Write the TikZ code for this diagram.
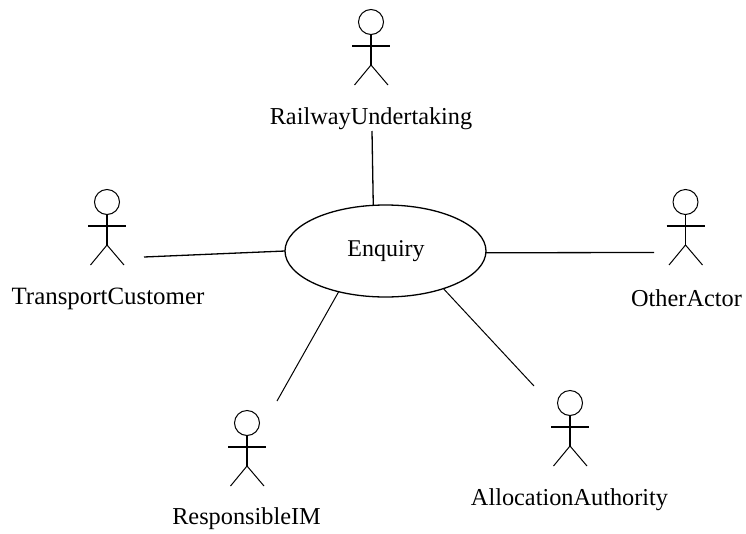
\documentclass[tikz,border=0pt]{standalone}
\usepackage{fontspec}
\setmainfont{Liberation Serif}
\tikzset{
  x=1pt,y=-1pt,
  line/.style={draw=black,line width=1.3pt},
  thin line/.style={draw=black,line width=1pt},
  usecase/.style={ellipse,draw=black,line width=1.3pt,minimum width=201pt,minimum height=92pt,inner sep=0pt,outer sep=0pt},
  lbl/.style={inner sep=0pt,outer sep=0pt,anchor=center,font=\fontsize{24.3}{28}\selectfont},
  head/.style={circle,draw=black,line width=1pt,minimum size=25pt,inner sep=0pt,outer sep=0pt},
  actor/.pic={
    \node[head] (-h) at (0,0) {};
    \draw[line] (-h.south) -- (0,43);
    \draw[line] (-19,24) -- (19,24);
    \draw[thin line] (-16.5,63) -- (0,43) -- (17,63);
  }
}
\usetikzlibrary{shapes.geometric}
\begin{document}
\begin{tikzpicture}
\useasboundingbox (0,0) rectangle (746,533);
\node[usecase] (enq) at (385.5,251) {};
\node[lbl,font=\fontsize{24}{28}\selectfont] (enql) at (386,251) {Enquiry};
\pic (ru) at (371,22) {actor};
\pic (tc) at (107,202) {actor};
\pic (oa) at (685.5,202) {actor};
\pic (im) at (247,423) {actor};
\pic (aa) at (570,403) {actor};
\node[lbl] (rul) at (371,118.5) {RailwayUndertaking};
\node[lbl,font=\fontsize{24.9}{28}\selectfont] (tcl) at (108,299) {TransportCustomer};
\node[lbl] (oal) at (686.5,298.5) {OtherActor};
\node[lbl] (iml) at (246.5,519) {ResponsibleIM};
\node[lbl] (aal) at (569.5,499.5) {AllocationAuthority};
\coordinate (ruc) at (372,131);
\coordinate (tcc) at (144,257);
\coordinate (oac) at (654,252.5);
\coordinate (imc) at (277,401);
\coordinate (aac) at (534,386);
\draw[line] (ruc) -- (enq.105.2);
\draw[line] (tcc) -- (enq.180);
\draw[line] (enq.-1) -- (oac);
\draw[thin line] (imc) -- (enq.221);
\draw[thin line] (enq.-33.5) -- (aac);
\end{tikzpicture}
\end{document}
